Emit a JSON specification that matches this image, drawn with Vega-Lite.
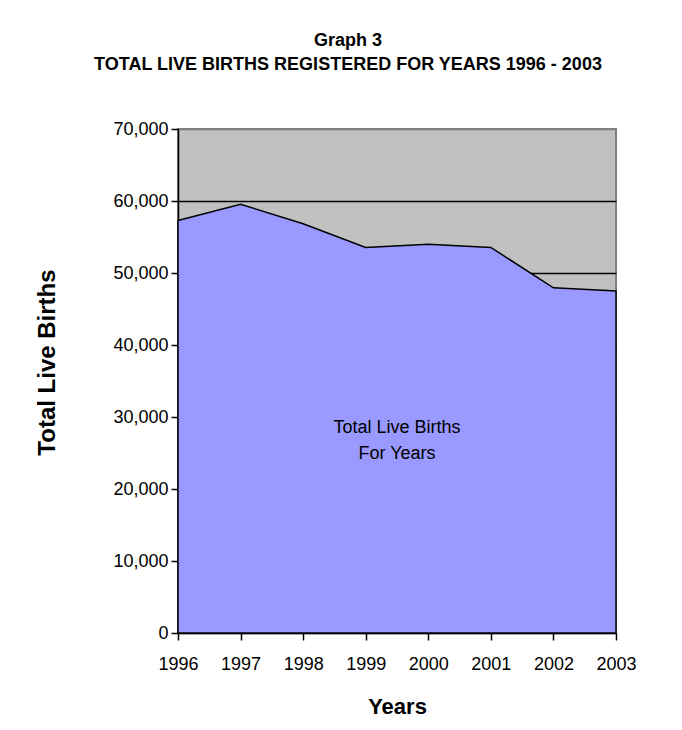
{
  "$schema": "https://vega.github.io/schema/vega-lite/v6.json",
  "width": 438,
  "height": 504,
  "autosize": {"type": "none"},
  "padding": {"left": 178, "top": 129, "right": 66, "bottom": 97},
  "background": "white",
  "config": {
    "font": "Liberation Sans",
    "view": {"fill": "#C0C0C0", "stroke": "#808080", "strokeWidth": 2}
  },
  "title": {
    "text": ["Graph 3", "TOTAL LIVE BIRTHS REGISTERED FOR YEARS 1996 - 2003"],
    "font": "Liberation Sans",
    "fontSize": 18,
    "fontWeight": "bold",
    "color": "black",
    "anchor": "middle",
    "frame": "group",
    "dx": -49,
    "lineHeight": 24,
    "offset": 46
  },
  "datasets": {
    "births": [
      {"year": 1996, "births": 57300},
      {"year": 1997, "births": 59550},
      {"year": 1998, "births": 56850},
      {"year": 1999, "births": 53550},
      {"year": 2000, "births": 54000},
      {"year": 2001, "births": 53550},
      {"year": 2002, "births": 47950},
      {"year": 2003, "births": 47500}
    ],
    "note": [
      {"year": 1999.5, "births": 28500, "label": "Total Live Births\nFor Years"}
    ]
  },
  "layer": [
    {
      "data": {"name": "births"},
      "mark": {"type": "area", "color": "#9999FF", "opacity": 1, "stroke": "black", "strokeWidth": 1.5, "strokeJoin": "miter"},
      "encoding": {
        "x": {
          "field": "year",
          "type": "quantitative",
          "scale": {"domain": [1996, 2003], "nice": false, "zero": false},
          "axis": {
            "values": [1996, 1997, 1998, 1999, 2000, 2001, 2002, 2003],
            "format": "d",
            "grid": false,
            "domainColor": "black",
            "domainWidth": 1.5,
            "tickColor": "black",
            "tickWidth": 1.5,
            "tickSize": 7,
            "labelFontSize": 18,
            "labelColor": "black",
            "labelPadding": 15,
            "labelFlush": false,
            "labelOverlap": false,
            "title": "Years",
            "titleFontSize": 22,
            "titleFontWeight": "bold",
            "titleColor": "black",
            "titleY": 80,
            "titleBaseline": "alphabetic",
            "zindex": 0
          }
        },
        "y": {
          "field": "births",
          "type": "quantitative",
          "scale": {"domain": [0, 70000], "nice": false},
          "axis": {
            "values": [0, 10000, 20000, 30000, 40000, 50000, 60000, 70000],
            "format": ",d",
            "grid": true,
            "gridColor": {"condition": {"test": "datum.value == 70000 || datum.value == 0", "value": "#808080"}, "value": "black"},
            "gridWidth": 1.5,
            "domainColor": "black",
            "domainWidth": 1.5,
            "tickColor": "black",
            "tickWidth": 1.5,
            "tickSize": 7,
            "labelFontSize": 18,
            "labelColor": "black",
            "labelPadding": 3,
            "labelFlush": false,
            "labelOverlap": false,
            "title": "Total Live Births",
            "titleFontSize": 24,
            "titleFontWeight": "bold",
            "titleColor": "black",
            "titleX": -131,
            "titleY": 233,
            "titleAngle": -90,
            "titleAlign": "center",
            "titleBaseline": "middle",
            "zindex": 0
          }
        }
      }
    },
    {
      "data": {"name": "note"},
      "mark": {"type": "text", "fontSize": 18, "color": "black", "lineBreak": "\n", "lineHeight": 26, "baseline": "middle", "align": "center"},
      "encoding": {
        "x": {"field": "year", "type": "quantitative"},
        "y": {"field": "births", "type": "quantitative"},
        "text": {"field": "label"}
      }
    }
  ]
}
